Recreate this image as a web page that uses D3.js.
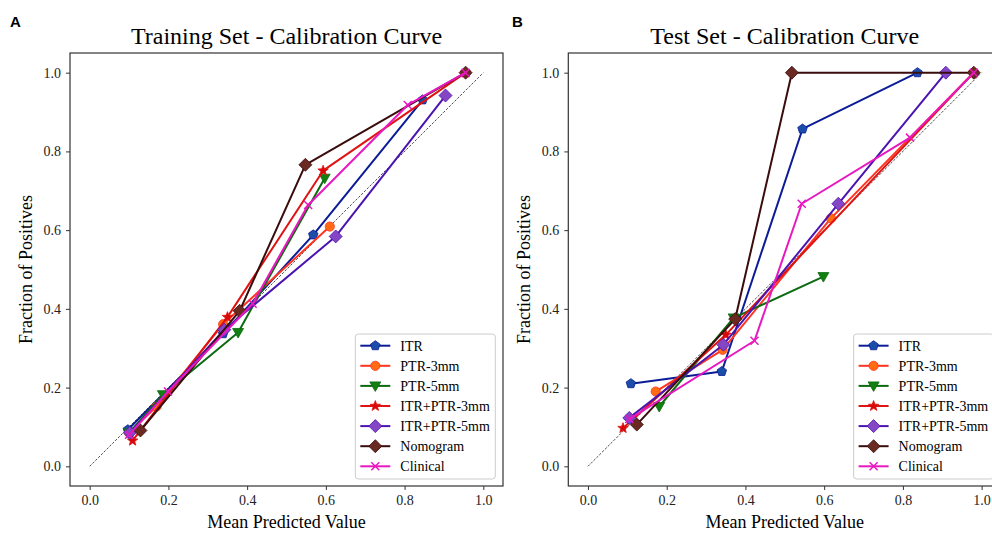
<!DOCTYPE html>
<html>
<head>
<meta charset="utf-8">
<script src="https://cdn.jsdelivr.net/npm/d3@7"></script>
<style>
  body { margin: 0; background: #fff; }
  svg { display: block; font-family: "Liberation Serif", "Times New Roman", serif; }
</style>
</head>
<body>
<svg id="chart" width="992" height="533"></svg>
<script>
// series names (legend order)
var seriesNames = ["ITR", "PTR-3mm", "PTR-5mm", "ITR+PTR-3mm", "ITR+PTR-5mm", "Nomogram", "Clinical"];
var tickValues = [0.0, 0.2, 0.4, 0.6, 0.8, 1.0];

// training set: [mean predicted, fraction of positives]
var trainITR = [[0.097, 0.093], [0.339, 0.337], [0.568, 0.588], [0.846, 0.931]];
var trainPTR3 = [[0.100, 0.085], [0.170, 0.152], [0.339, 0.361], [0.610, 0.609]];
var trainPTR5 = [[0.100, 0.085], [0.186, 0.182], [0.377, 0.340], [0.597, 0.732]];
var trainITRPTR3 = [[0.109, 0.065], [0.350, 0.379], [0.593, 0.751], [0.955, 1.0]];
var trainITRPTR5 = [[0.102, 0.085], [0.342, 0.347], [0.625, 0.584], [0.904, 0.942]];
var trainNomogram = [[0.129, 0.091], [0.381, 0.395], [0.548, 0.766], [0.955, 1.0]];
var trainClinical = [[0.100, 0.080], [0.199, 0.190], [0.414, 0.413], [0.555, 0.664], [0.808, 0.918], [0.955, 1.0]];

// test set
var testITR = [[0.109, 0.210], [0.340, 0.241], [0.545, 0.857], [0.837, 1.0]];
var testPTR3 = [[0.172, 0.190], [0.342, 0.296], [0.617, 0.630], [0.980, 1.0]];
var testPTR5 = [[0.181, 0.152], [0.370, 0.377], [0.598, 0.482]];
var testITRPTR3 = [[0.089, 0.097], [0.350, 0.334], [0.980, 1.0]];
var testITRPTR5 = [[0.105, 0.123], [0.344, 0.309], [0.636, 0.667], [0.909, 1.0]];
var testNomogram = [[0.124, 0.106], [0.374, 0.374], [0.518, 1.0], [0.980, 1.0]];
var testClinical = [[0.105, 0.120], [0.423, 0.319], [0.543, 0.667], [0.818, 0.835], [0.980, 1.0]];

var trainSeries = [trainITR, trainPTR3, trainPTR5, trainITRPTR3, trainITRPTR5, trainNomogram, trainClinical];
var testSeries = [testITR, testPTR3, testPTR5, testITRPTR3, testITRPTR5, testNomogram, testClinical];

// styles
var lineColors = ["#0c1c96", "#ff3420", "#0c6a10", "#e01212", "#4b14b0", "#3a0c0c", "#e818c0"];
var markColors = ["#1a4ea8", "#ff6a12", "#118011", "#d80808", "#8446c4", "#6a2a22", "#e818c0"];
var markTypes = ["pentagon", "circle", "tridown", "star", "diamond", "diamond", "x"];

function markerPath(type) {
    var p = d3.path();
    if (type == "circle") {
        p.arc(0, 0, 4.6, 0, 2 * Math.PI);
    } else if (type == "pentagon") {
        for (var i = 0; i < 5; i++) {
            var a = -Math.PI / 2 + i * 2 * Math.PI / 5;
            if (i == 0) p.moveTo(5 * Math.cos(a), 5 * Math.sin(a));
            else p.lineTo(5 * Math.cos(a), 5 * Math.sin(a));
        }
        p.closePath();
    } else if (type == "tridown") {
        p.moveTo(-5.5, -4); p.lineTo(5.5, -4); p.lineTo(0, 5.5); p.closePath();
    } else if (type == "star") {
        for (var j = 0; j < 10; j++) {
            var b = -Math.PI / 2 + j * Math.PI / 5;
            var r = j % 2 == 0 ? 5.5 : 2.3;
            if (j == 0) p.moveTo(r * Math.cos(b), r * Math.sin(b));
            else p.lineTo(r * Math.cos(b), r * Math.sin(b));
        }
        p.closePath();
    } else if (type == "diamond") {
        p.moveTo(0, -6.5); p.lineTo(6.5, 0); p.lineTo(0, 6.5); p.lineTo(-6.5, 0); p.closePath();
    } else if (type == "x") {
        p.moveTo(-4, -4); p.lineTo(4, 4); p.moveTo(-4, 4); p.lineTo(4, -4);
    }
    return p.toString();
}

var svg = d3.select("#chart");

function drawPanel(left, letter, letterX, title, series) {
    var xScale = d3.scaleLinear().domain([-0.05, 1.05]).range([left, left + 433]);
    var yScale = d3.scaleLinear().domain([-0.05, 1.05]).range([486, 53]);

    var g = svg.append("g");

    g.append("text")
        .attr("x", letterX).attr("y", 27)
        .style("font-family", "'Liberation Sans', Arial, sans-serif")
        .style("font-weight", "bold")
        .style("font-size", "15px")
        .text(letter);

    g.append("text")
        .attr("x", left + 216.5).attr("y", 44)
        .attr("text-anchor", "middle")
        .style("font-size", "24px")
        .text(title);

    // diagonal reference
    g.append("line")
        .attr("x1", xScale(0)).attr("y1", yScale(0))
        .attr("x2", xScale(1)).attr("y2", yScale(1))
        .attr("stroke", "#222")
        .attr("stroke-width", 0.8)
        .attr("stroke-dasharray", "2.5,1.5");

    var line = d3.line()
        .x(function (d) { return xScale(d[0]); })
        .y(function (d) { return yScale(d[1]); });

    series.forEach(function (s, i) {
        g.append("path")
            .datum(s)
            .attr("d", line)
            .attr("fill", "none")
            .attr("stroke", lineColors[i])
            .attr("stroke-width", 2)
            .attr("stroke-linejoin", "round");
        g.selectAll(".m" + i)
            .data(s)
            .enter()
            .append("path")
            .attr("class", "m" + i)
            .attr("transform", function (d) {
                return "translate(" + xScale(d[0]) + "," + yScale(d[1]) + ")";
            })
            .attr("d", markerPath(markTypes[i]))
            .attr("fill", markTypes[i] == "x" ? "none" : markColors[i])
            .attr("stroke", markTypes[i] == "x" ? markColors[i] : lineColors[i])
            .attr("stroke-width", markTypes[i] == "x" ? 1.5 : 0.8);
    });

    // frame
    g.append("rect")
        .attr("x", left).attr("y", 53)
        .attr("width", 433).attr("height", 433)
        .attr("fill", "none")
        .attr("stroke", "#333")
        .attr("stroke-width", 1.2);

    var xAxis = d3.axisBottom(xScale).tickValues(tickValues).tickFormat(d3.format(".1f")).tickSize(4).tickPadding(5);
    var yAxis = d3.axisLeft(yScale).tickValues(tickValues).tickFormat(d3.format(".1f")).tickSize(4).tickPadding(5);

    var gx = g.append("g")
        .attr("transform", "translate(0,486)")
        .call(xAxis);
    var gy = g.append("g")
        .attr("transform", "translate(" + left + ",0)")
        .call(yAxis);
    [gx, gy].forEach(function (a) {
        a.select(".domain").remove();
        a.selectAll("line").attr("stroke", "#333");
        a.selectAll("text")
            .style("font-family", "'Liberation Serif', 'Times New Roman', serif")
            .style("font-size", "14px")
            .attr("fill", "#222");
    });

    g.append("text")
        .attr("x", left + 216.5).attr("y", 528)
        .attr("text-anchor", "middle")
        .style("font-size", "18px")
        .text("Mean Predicted Value");

    g.append("text")
        .attr("transform", "translate(" + (left - 38) + ",269.5) rotate(-90)")
        .attr("text-anchor", "middle")
        .style("font-size", "18px")
        .text("Fraction of Positives");

    // legend
    var lx = left + 433 - 147.7;
    var leg = g.append("g").attr("transform", "translate(" + lx + ",334)");
    leg.append("rect")
        .attr("width", 140).attr("height", 145)
        .attr("rx", 3)
        .attr("fill", "#fff")
        .attr("fill-opacity", 0.8)
        .attr("stroke", "#ccc");
    seriesNames.forEach(function (name, i) {
        var y = 11.7 + i * 20.1;
        leg.append("line")
            .attr("x1", 5).attr("x2", 35)
            .attr("y1", y).attr("y2", y)
            .attr("stroke", lineColors[i])
            .attr("stroke-width", 2);
        leg.append("path")
            .attr("transform", "translate(20," + y + ")")
            .attr("d", markerPath(markTypes[i]))
            .attr("fill", markTypes[i] == "x" ? "none" : markColors[i])
            .attr("stroke", markTypes[i] == "x" ? markColors[i] : lineColors[i])
            .attr("stroke-width", markTypes[i] == "x" ? 1.5 : 0.8);
        leg.append("text")
            .attr("x", 45).attr("y", y + 5)
            .style("font-size", "14px")
            .text(name);
    });
}

drawPanel(70, "A", 10, "Training Set - Calibration Curve", trainSeries);
drawPanel(568.3, "B", 512, "Test Set - Calibration Curve", testSeries);
</script>
</body>
</html>
